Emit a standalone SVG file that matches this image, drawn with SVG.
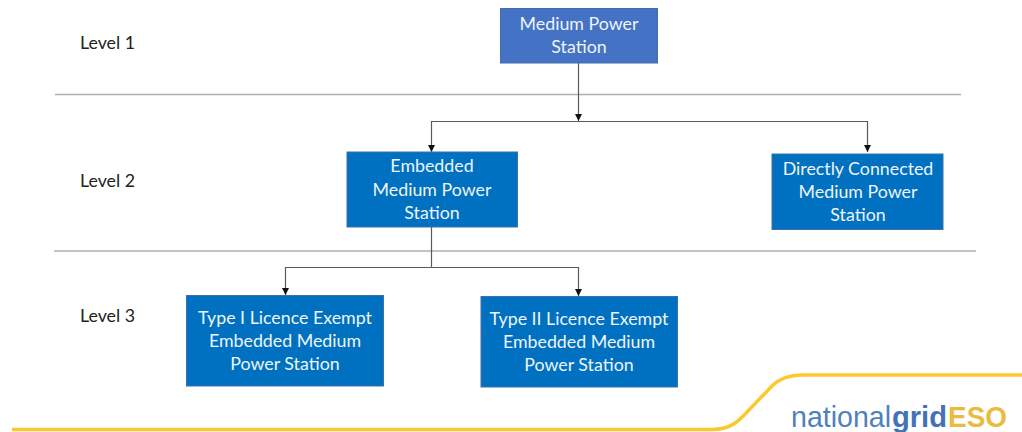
<svg xmlns="http://www.w3.org/2000/svg" width="1022" height="432" viewBox="0 0 1022 432">
<style>
text{font-family:"Lato","Open Sans","Liberation Sans",sans-serif}
.b{stroke:#3f6fa8;stroke-width:1;fill:#0070c0}
.t{fill:#eef5fb;font-size:17.8px;text-anchor:middle}
.l{fill:#222;font-size:17.8px}
.r{stroke:#b0b0b0;stroke-width:1.5;fill:none}
.c{stroke:#5a5a5a;stroke-width:1.2;fill:none}
.w{font-family:"Liberation Sans",sans-serif;font-size:29px}
</style>
<defs><marker id="a" markerUnits="userSpaceOnUse" markerWidth="8" markerHeight="7" refX="7" refY="3.5" orient="auto"><path d="M0 0L7 3.5L0 7z" fill="#111"/></marker></defs>
<rect width="1022" height="432" fill="#fff"/>
<g id="rules">
<path class="r" d="M55 94.500H961M54 251H976"/>
</g>
<g id="connectors">
<path class="c" d="M578.500 63V121" marker-end="url(#a)"/>
<path class="c" d="M578.500 121.500H431.500V152" marker-end="url(#a)"/>
<path class="c" d="M578.500 121.500H867.500V152" marker-end="url(#a)"/>
<path class="c" d="M431.500 227V267.500"/>
<path class="c" d="M431.500 267.500H285.500V295" marker-end="url(#a)"/>
<path class="c" d="M431.500 267.500H578.500V296" marker-end="url(#a)"/>
</g>
<g id="level1"><text class="l" x="80" y="49">Level 1</text></g>
<g id="level2"><text class="l" x="80" y="186.500">Level 2</text></g>
<g id="level3"><text class="l" x="80" y="322">Level 3</text></g>
<g id="medium-power-station"><rect x="500.500" y="8.500" width="157" height="54.500" fill="#4472c4" stroke="#3f6fa8"/>
<text class="t" x="579" y="29.500">Medium Power</text><text class="t" x="579" y="53">Station</text></g>
<g id="embedded"><rect class="b" x="347" y="152" width="170.500" height="75"/>
<text class="t" x="432" y="171.500">Embedded</text><text class="t" x="432" y="195.500">Medium Power</text><text class="t" x="432" y="218.500">Station</text></g>
<g id="directly-connected"><rect class="b" x="772" y="154" width="171" height="75.500"/>
<text class="t" x="858" y="174.500">Directly Connected</text><text class="t" x="858" y="198">Medium Power</text><text class="t" x="858" y="221">Station</text></g>
<g id="type-1"><rect class="b" x="186.500" y="295.500" width="197" height="90.500"/>
<text class="t" x="285" y="323.500">Type I Licence Exempt</text><text class="t" x="285" y="346.500">Embedded Medium</text><text class="t" x="285" y="369.500">Power Station</text></g>
<g id="type-2"><rect class="b" x="481" y="296.500" width="196.500" height="90.500"/>
<text class="t" x="579" y="324.500">Type II Licence Exempt</text><text class="t" x="579" y="347.500">Embedded Medium</text><text class="t" x="579" y="370.500">Power Station</text></g>
<g id="branding">
<path d="M12 429.500H712C730 429.500 738 422 748 411L772 386C780 378 789 375 802 375H1022" fill="none" stroke="#fdc82f" stroke-width="3.500"/>
<text class="w" x="791" y="427" fill="#4f81bd" textLength="100" lengthAdjust="spacingAndGlyphs">national</text>
<text class="w" x="892" y="427" fill="#4472b8" font-weight="700" textLength="55" lengthAdjust="spacingAndGlyphs">grid</text>
<text class="w" x="948" y="427" fill="#e9bc3f" font-weight="700" textLength="59" lengthAdjust="spacingAndGlyphs">ESO</text>
</g>
</svg>
